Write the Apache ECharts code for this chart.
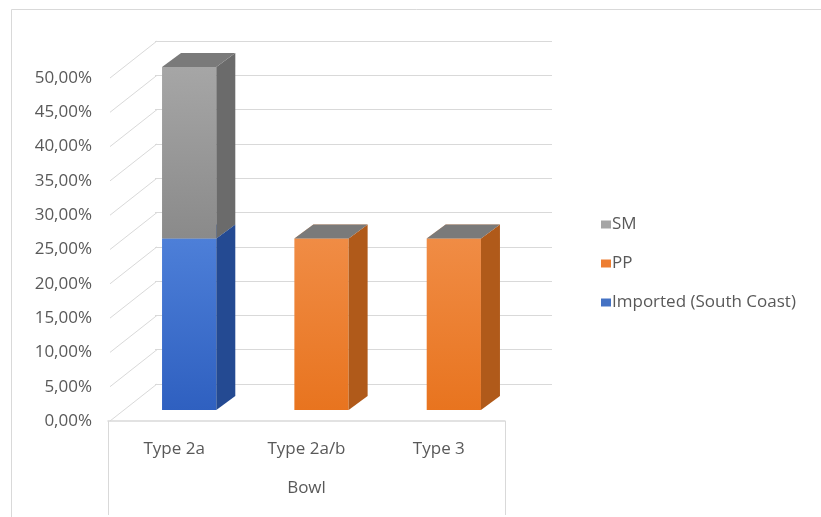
<!DOCTYPE html>
<html><head><meta charset="utf-8">
<script src="https://cdn.jsdelivr.net/npm/echarts@6/dist/echarts.min.js"></script>
<style>html,body{margin:0;padding:0;background:#fff}#c{width:821px;height:517px}</style>
</head><body><div id="c"></div>
<script>
// ---- data ----
const categories = ['Type 2a', 'Type 2a/b', 'Type 3'];
const groupLabels = ['Bowl'];
const seriesNames = ['Imported (South Coast)', 'PP', 'SM'];
const importedSouthCoast = [0.25, 0, 0];
const pp = [0, 0.25, 0.25];
const sm = [0.25, 0, 0];
const yTicks = [0, 0.05, 0.10, 0.15, 0.20, 0.25, 0.30, 0.35, 0.40, 0.45, 0.50];

// ---- style ----
const FONT = 'Open Sans';
const FS = 17;
const TXT = '#595959';
const LINE = '#d9d9d9';
const BAR_OFF = [15, -11];   // bar front face offset from front plane
const BAR_DEPTH = [19, -14]; // bar depth
const WALL_OFF = [47, -37];  // back wall offset

const stackList = [importedSouthCoast, pp, sm];
function baseOf(si, ci) { let b = 0; for (let k = 0; k < si; k++) b += stackList[k][ci]; return b; }
function makeData(si, keepZero) {
  const out = [];
  stackList[si].forEach((v, ci) => { if (v > 0 || keepZero) out.push([ci, v, baseOf(si, ci)]); });
  return out;
}
const styles = [
  { legend: '#4472C4', front: ['#4d7fd8', '#2f60c0'], side: '#244a92', top: '#5a88d8' },
  { legend: '#ED7D31', front: ['#f08c45', '#e8741f'], side: '#b05a1a', top: '#f4a36a' },
  { legend: '#A5A5A5', front: ['#a6a6a6', '#8a8a8a'], side: '#6b6b6b', top: '#7a7a7a' }
];

function boxRender(st) {
  return function (params, api) {
    const ci = api.value(0), v = api.value(1), base = api.value(2);
    const p0 = api.coord([ci, base]);
    const p1 = api.coord([ci, base + v]);
    const w = api.size([1, 0])[0] * 0.41;
    const xl = p0[0] - w / 2 + BAR_OFF[0], xr = xl + w;
    const yb = p0[1] + BAR_OFF[1], yt = p1[1] + BAR_OFF[1];
    const dx = BAR_DEPTH[0], dy = BAR_DEPTH[1];
    const children = [];
    if (yb - yt > 0.5) {
      children.push({ type: 'rect', shape: { x: xl, y: yt, width: w, height: yb - yt },
        style: { fill: new echarts.graphic.LinearGradient(0, 0, 0, 1, [{ offset: 0, color: st.front[0] }, { offset: 1, color: st.front[1] }]) } });
    }
    children.push({ type: 'polygon', shape: { points: [[xr, yb], [xr + dx, yb + dy], [xr + dx, yt + dy], [xr, yt]] },
      style: { fill: st.side } });
    children.push({ type: 'polygon', shape: { points: [[xl, yt], [xr, yt], [xr + dx, yt + dy], [xl + dx, yt + dy]] },
      style: { fill: st.top } });
    return { type: 'group', children };
  };
}

const chart = echarts.init(document.getElementById('c'), null, { renderer: 'canvas' });
const pctFmt = v => (v * 100).toFixed(2).replace('.', ',') + '%';

const barSeries = seriesNames.map((name, si) => ({
  name, type: 'custom', xAxisIndex: 0, yAxisIndex: 0, z: 5 + si,
  itemStyle: { color: styles[si].legend },
  renderItem: boxRender(styles[si]),
  encode: { x: 0, y: 1 },
  data: makeData(si, si === 2)
}));

chart.setOption({
  animation: false,
  backgroundColor: '#fff',
  textStyle: { fontFamily: FONT },
  graphic: [{ type: 'rect', left: 9, top: 7, shape: { width: 830, height: 508 }, style: { fill: 'none', stroke: LINE, lineWidth: 1 }, silent: true, z: -10 }],
  grid: [
    { left: 108, right: 316, top: 78, bottom: 96 },
    { left: 155, right: 269, top: 41, bottom: 133 }
  ],
  legend: {
    orient: 'vertical', left: 596, top: 211, itemGap: 22,
    itemWidth: 10, itemHeight: 8, icon: 'rect',
    data: ['SM', 'PP', 'Imported (South Coast)'],
    textStyle: { color: TXT, fontSize: FS, fontFamily: FONT, padding: [0, 0, 0, -4] }
  },
  xAxis: [
    { type: 'category', gridIndex: 0, data: categories,
      axisLine: { lineStyle: { color: LINE, width: 1.5 } }, axisTick: { show: false },
      axisLabel: { color: TXT, fontSize: FS, margin: 20 } },
    { type: 'category', gridIndex: 0, data: groupLabels, position: 'bottom',
      axisLine: { show: false },
      axisTick: { show: true, length: 94, lineStyle: { color: LINE } },
      axisLabel: { color: TXT, fontSize: FS, margin: 59 } },
    { type: 'category', gridIndex: 1, data: categories, show: false }
  ],
  yAxis: [
    { type: 'value', gridIndex: 0, min: 0, max: 0.5, interval: 0.05,
      axisLine: { show: false }, axisTick: { show: false }, splitLine: { show: false },
      axisLabel: { color: TXT, fontSize: FS, margin: 16, formatter: pctFmt } },
    { type: 'value', gridIndex: 1, min: 0, max: 0.5, interval: 0.05,
      axisLine: { show: false }, axisTick: { show: false }, axisLabel: { show: false },
      splitLine: { show: true, lineStyle: { color: LINE, width: 1.2 } } }
  ],
  series: [
    { type: 'custom', name: '_diag', xAxisIndex: 0, yAxisIndex: 0, silent: true, z: 1,
      encode: { x: 0, y: 1 },
      data: yTicks.map(v => [0, v]),
      renderItem: function (params, api) {
        const p = api.coord([0, api.value(1)]);
        const x0 = params.coordSys.x + 2;
        return { type: 'line', shape: { x1: x0, y1: p[1], x2: x0 + WALL_OFF[0], y2: p[1] + WALL_OFF[1] },
          style: { stroke: LINE, lineWidth: 1 } };
      } },
    ...barSeries
  ]
});
</script></body></html>
